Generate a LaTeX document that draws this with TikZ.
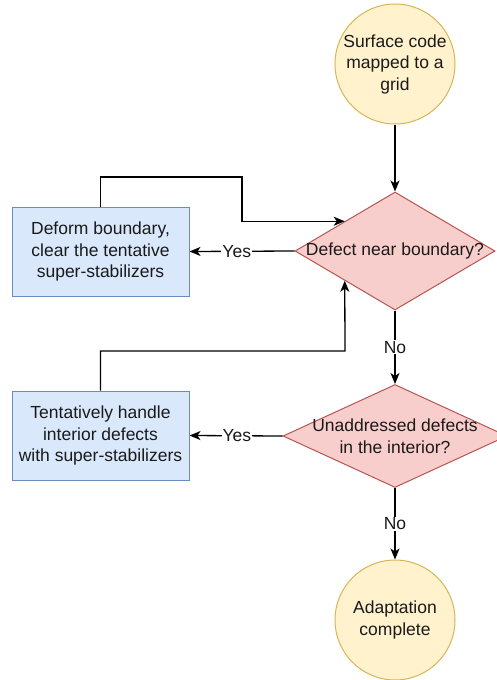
\documentclass[tikz,border=0pt]{standalone}
\usepackage{fontspec}
\setmainfont{Liberation Sans}
\usetikzlibrary{shapes.geometric,arrows.meta}
\definecolor{dfill}{HTML}{F8CECC}
\definecolor{dline}{HTML}{B85450}
\definecolor{bfill}{HTML}{DAE8FC}
\definecolor{bline}{HTML}{6C8EBF}
\definecolor{cfill}{HTML}{FFF2CC}
\definecolor{cline}{HTML}{D6B656}
\definecolor{txt}{HTML}{1A1A1A}
\begin{document}
\begin{tikzpicture}[x=1pt,y=-1pt,
  font=\fontsize{17.5}{21.5}\selectfont, text=txt,
  term/.style={circle, draw=cline, fill=cfill, line width=1pt, minimum size=120pt, inner sep=0pt, align=center},
  procbox/.style={rectangle, draw=bline, fill=bfill, line width=1pt, minimum width=177pt, minimum height=89pt, inner sep=0pt, align=center},
  decide/.style={diamond, draw=dline, fill=dfill, line width=1pt, inner sep=0pt},
  conn/.style={draw=black, line width=1.3pt, -{Stealth[length=11pt,width=9pt,inset=3pt]}},
  lbl/.style={fill=white, inner sep=1pt}
]
\useasboundingbox (0,0) rectangle (496,680);

\node[term] (start) at (395,64) {Surface code\\mapped to a\\grid};
\node[decide, minimum width=200pt, minimum height=118pt,
  label={[align=center]center:Defect near boundary?}] (d1) at (395,251) {};
\node[procbox] (b1) at (100.5,251.5) {Deform boundary,\\clear the tentative\\super-stabilizers};
\node[decide, minimum width=224pt, minimum height=103pt,
  label={[align=center]center:Unaddressed defects\\in the interior?}] (d2) at (395,436) {};
\node[procbox] (b2) at (100.5,435.5) {Tentatively handle\\interior defects\\with super-stabilizers};
\node[term] (end) at (395,620) {Adaptation\\complete};

\coordinate (k1) at (242,177);
\coordinate (k2) at (345,351);

\draw[conn] (start) -- (d1);
\draw[conn] (d1.west) -- node[lbl, pos=0.55] {Yes} (b1.east);
\draw[conn] (d1.south) -- node[lbl] {No} (d2.north);
\draw[conn] (d2.west) -- node[lbl, pos=0.49] {Yes} (b2.east);
\draw[conn] (d2.south) -- node[lbl] {No} (end.north);
\draw[conn] (b1.north) |- (k1) |- (d1.north west);
\draw[conn] (b2.north) |- (k2) -- (d1.south west);
\end{tikzpicture}
\end{document}
